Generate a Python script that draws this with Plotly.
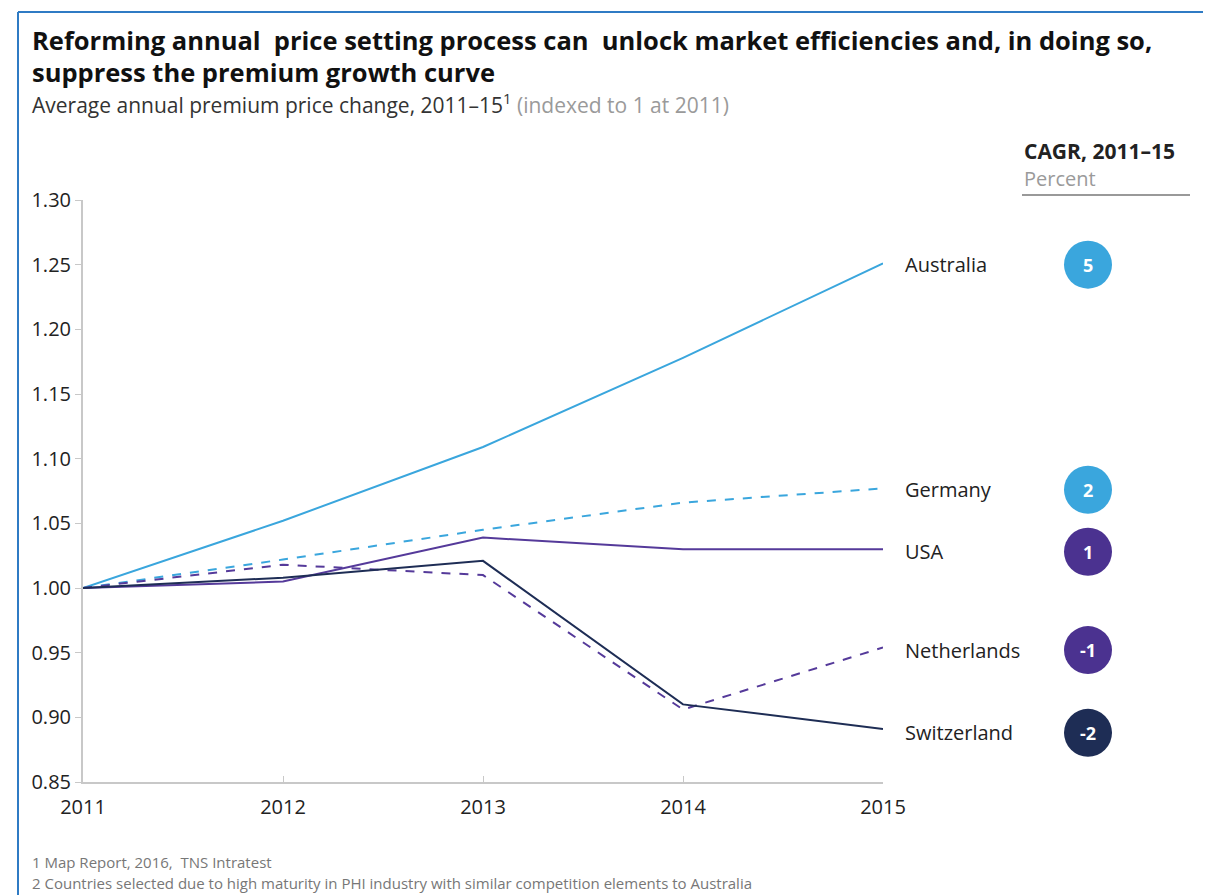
import plotly.graph_objects as go

years = [2011, 2012, 2013, 2014, 2015]
australia = [1.000, 1.052, 1.109, 1.178, 1.251]
germany = [1.000, 1.022, 1.045, 1.066, 1.077]
usa = [1.000, 1.005, 1.039, 1.030, 1.030]
netherlands = [1.000, 1.018, 1.010, 0.906, 0.954]
switzerland = [1.000, 1.008, 1.021, 0.910, 0.891]

countries = ["Australia", "Germany", "USA", "Netherlands", "Switzerland"]
series = [australia, germany, usa, netherlands, switzerland]
cagr = [5, 2, 1, -1, -2]
label_y = [1.250, 1.076, 1.028, 0.952, 0.888]

LIGHT = "#3AA6DD"
PURPLE = "#553A9A"
NAVY = "#1E2D55"
line_colors = [LIGHT, LIGHT, PURPLE, PURPLE, NAVY]
dashes = ["solid", "dash", "solid", "dash", "solid"]
circle_colors = [LIGHT, LIGHT, "#4B3290", "#4B3290", NAVY]

FONT = "Open Sans"

OFF = 8  # browser body margin
W, H = 1211 - OFF, 895 - OFF
L, R, T, B = 83, 883, 200, 782  # page pixel positions of the plot area

def px(x):
    return (x - L) / (R - L)

def py(y):
    return (B - y) / (B - T)

fig = go.Figure()
for name, vals, c, d in zip(countries, series, line_colors, dashes):
    fig.add_trace(go.Scatter(x=years, y=vals, mode="lines", name=name,
                             line=dict(color=c, width=2, dash=d),
                             cliponaxis=False, showlegend=False))

annotations = []
shapes = []
for name, yv, cv, cc in zip(countries, label_y, cagr, circle_colors):
    annotations.append(dict(x=2015, y=yv, xref="x", yref="y", text=name,
                            showarrow=False, xanchor="left", xshift=20,
                            font=dict(family=FONT, size=20, color="#222")))
    shapes.append(dict(type="circle", xref="paper", yref="y",
                       xsizemode="pixel", ysizemode="pixel",
                       xanchor=px(1088), yanchor=yv,
                       x0=-24, x1=24, y0=-24, y1=24,
                       fillcolor=cc, line=dict(width=0), layer="above"))
    annotations.append(dict(x=px(1088), y=yv, xref="paper", yref="y",
                            text="<b>%d</b>" % cv, showarrow=False,
                            xanchor="center", yanchor="middle",
                            font=dict(family=FONT, size=18, color="white")))

annotations += [
    dict(x=px(30), y=py(40), xref="paper", yref="paper", xanchor="left", yanchor="middle",
         text="<b>Reforming annual  price setting process can  unlock market efficiencies and, in doing so,</b>",
         showarrow=False, font=dict(family=FONT, size=25.5, color="#111")),
    dict(x=px(30), y=py(72), xref="paper", yref="paper", xanchor="left", yanchor="middle",
         text="<b>suppress the premium growth curve</b>",
         showarrow=False, font=dict(family=FONT, size=25.5, color="#111")),
    dict(x=px(30), y=py(104), xref="paper", yref="paper", xanchor="left", yanchor="middle",
         text="Average annual premium price change, 2011–15<sup>1</sup> <span style='color:#9a9a9a'>(indexed to 1 at 2011)</span>",
         showarrow=False, font=dict(family=FONT, size=21, color="#333")),
    dict(x=px(1022), y=py(151), xref="paper", yref="paper", xanchor="left", yanchor="middle",
         text="<b>CAGR, 2011–15</b>", showarrow=False,
         font=dict(family=FONT, size=21, color="#222")),
    dict(x=px(1022), y=py(179), xref="paper", yref="paper", xanchor="left", yanchor="middle",
         text="Percent", showarrow=False,
         font=dict(family=FONT, size=20, color="#9a9a9a")),
    dict(x=px(30), y=py(862), xref="paper", yref="paper", xanchor="left", yanchor="middle",
         text="1 Map Report, 2016,  TNS Intratest", showarrow=False,
         font=dict(family=FONT, size=15, color="#777")),
    dict(x=px(30), y=py(883), xref="paper", yref="paper", xanchor="left", yanchor="middle",
         text="2 Countries selected due to high maturity in PHI industry with similar competition elements to Australia",
         showarrow=False, font=dict(family=FONT, size=15, color="#777")),
]

shapes += [
    dict(type="line", xref="paper", yref="paper", x0=px(1022), x1=px(1190),
         y0=py(195), y1=py(195), line=dict(color="#999", width=2)),
    dict(type="line", xref="paper", yref="paper", x0=px(18), x1=px(18),
         y0=py(12), y1=py(900), line=dict(color="#2F7BC4", width=2)),
    dict(type="line", xref="paper", yref="paper", x0=px(18), x1=px(1215),
         y0=py(12), y1=py(12), line=dict(color="#2F7BC4", width=2)),
]

fig.update_layout(
    width=W, height=H,
    margin=dict(l=L - OFF, r=1211 - R, t=T - OFF, b=895 - B, pad=0),
    paper_bgcolor="white", plot_bgcolor="white",
    annotations=annotations, shapes=shapes,
    font=dict(family=FONT),
    xaxis=dict(range=[2011, 2015], tickvals=years, ticktext=[str(y) for y in years],
               showgrid=False, zeroline=False, showline=True, linecolor="#c8c8c8", linewidth=2,
               ticks="inside", ticklen=6, tickcolor="#c8c8c8", ticklabelstandoff=6,
               tickfont=dict(family=FONT, size=20, color="#222")),
    yaxis=dict(range=[0.85, 1.30], tickvals=[0.85, 0.90, 0.95, 1.00, 1.05, 1.10, 1.15, 1.20, 1.25, 1.30],
               tickformat=".2f", showgrid=False, zeroline=False, showline=True,
               linecolor="#c8c8c8", linewidth=2, ticks="outside", ticklen=6, tickcolor="#c8c8c8",
               tickfont=dict(family=FONT, size=20, color="#222")),
)

fig.write_html("out.html")
